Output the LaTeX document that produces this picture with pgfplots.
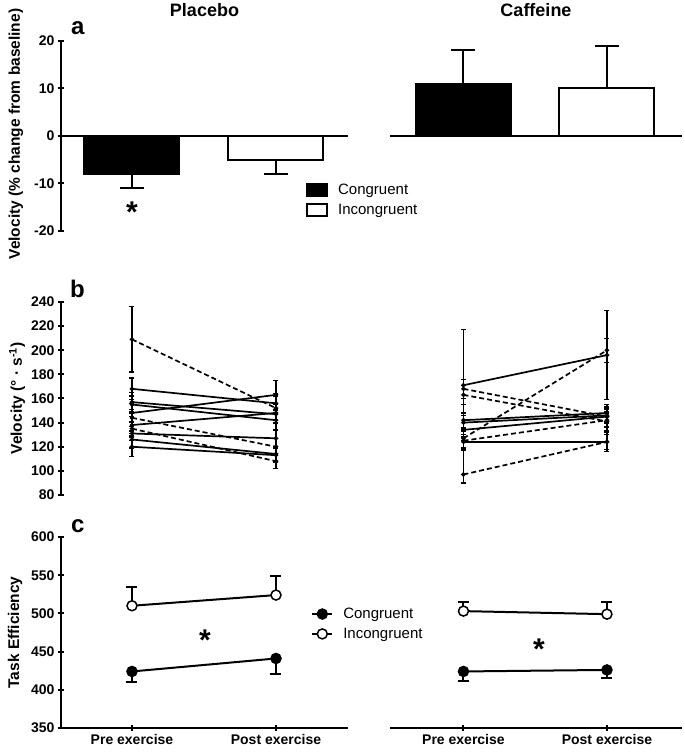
\documentclass[border=0pt]{standalone}
\usepackage{fontspec}
\setmainfont{Liberation Sans}
\usepackage{pgfplots}
\pgfplotsset{compat=1.18}

\pgfplotsset{
  prism/.style={
    scale only axis,
    clip=false,
    major tick style={line width=2pt, black},
    major tick length=6pt,
    tick align=outside,
    tick label style={font=\bfseries\fontsize{14}{16}\selectfont},
    /pgf/number format/assume math mode=true,
    label style={font=\bfseries\fontsize{15.5}{18}\selectfont},
    title style={font=\bfseries\fontsize{18}{20}\selectfont, at={(0.5,1)}, anchor=base, yshift=18pt},
  },
  noarrows/.style={axis line style={-, line width=2pt},
    every inner x axis line/.append style={-}, every outer x axis line/.append style={-},
    every inner y axis line/.append style={-}, every outer y axis line/.append style={-}},
  leftx/.style={xmin=-0.493, xmax=1.5, width=287pt},
  rightx/.style={xmin=-0.512, xmax=1.523, width=292pt},
  bar/.style={ybar, bar width=95pt, bar shift=0pt, draw=black, line width=2pt,
    error bars/y explicit, error bars/error bar style={line width=2pt},
    error bars/error mark options={rotate=90, mark size=12pt, line width=2pt}},
  pbs/.style={black, line width=1.7pt, mark=*, mark size=1.3pt, mark options={solid},
    error bars/y dir=both, error bars/y explicit,
    error bars/error bar style={solid, line width=1.3pt},
    error bars/error mark options={rotate=90, mark size=2.5pt, solid, line width=1.3pt}},
  pbd/.style={pbs, dash pattern=on 5pt off 3pt},
  pcc/.style={black, line width=2pt, mark=*, mark size=5pt,
    error bars/y explicit, error bars/error bar style={line width=2pt},
    error bars/error mark options={rotate=90, mark size=5.5pt, line width=2pt}},
  leg/.style={legend cell align=left,
    legend style={draw=none, fill=none, anchor=north west, row sep=4pt,
      font=\fontsize{15}{18}\selectfont,
      /tikz/every odd column/.append style={column sep=8pt}}},
}

\begin{document}
\begin{tikzpicture}
\useasboundingbox (0,0) rectangle (685pt,753pt);

% ---------- panel a ----------
\begin{axis}[prism, leftx, at={(61pt,522pt)}, anchor=south west, height=190pt,
  ymin=-20, ymax=20, ytick={-20,-10,0,10,20},
  axis y line=left, axis x line=middle, xtick=\empty,
  title={Placebo},
  ylabel={Velocity (\% change from baseline)},
  ylabel style={at={(axis description cs:-0.157,0.51)}, anchor=center},
  leg, legend style={at={(axis description cs:0.843,0.27)}},
  legend image code/.code={\draw[#1, line width=2pt] (0pt,-6pt) rectangle (20pt,6pt);},
  noarrows,
]
\addplot[bar, fill=black, error bars/y dir=minus] coordinates {(0,-8) +- (0,3)};
\addplot[bar, fill=white, error bars/y dir=minus] coordinates {(1,-5) +- (0,3)};
\legend{Congruent, Incongruent}
\node[font=\bfseries\fontsize{30}{30}\selectfont, anchor=base, yshift=-17.5pt, inner sep=0pt] at (axis cs:0,-14.5) {*};
\end{axis}

\begin{axis}[prism, rightx, at={(390pt,522pt)}, anchor=south west, height=190pt,
  ymin=-20, ymax=20, axis y line=none, axis x line=middle, xtick=\empty, ytick=\empty,
  title={Caffeine}, noarrows]
\addplot[bar, fill=black, error bars/y dir=plus] coordinates {(0,11) +- (0,7)};
\addplot[bar, fill=white, error bars/y dir=plus] coordinates {(1,10) +- (0,9)};
\end{axis}

% ---------- panel b ----------
\begin{axis}[prism, leftx, at={(61pt,258pt)}, anchor=south west, height=193pt,
  ymin=80, ymax=240, ytick={80,100,...,240},
  axis y line=left, axis x line=none, xtick=\empty,
  ylabel={Velocity (° · s\textsuperscript{-1})},
  ylabel style={at={(axis description cs:-0.153,0.5)}, anchor=center}, noarrows]
\addplot[pbd] coordinates {(0,209) +- (0,27) (1,152) +- (0,10)};
\addplot[pbs] coordinates {(0,168) +- (0,9) (1,156) +- (0,8)};
\addplot[pbs] coordinates {(0,157) +- (0,8) (1,147) +- (0,8)};
\addplot[pbs] coordinates {(0,155) +- (0,7) (1,142) +- (0,8)};
\addplot[pbs] coordinates {(0,148) +- (0,8) (1,163) +- (0,12)};
\addplot[pbd] coordinates {(0,144) +- (0,7) (1,120) +- (0,7)};
\addplot[pbs] coordinates {(0,138) +- (0,7) (1,148) +- (0,8)};
\addplot[pbd] coordinates {(0,135) +- (0,6) (1,108) +- (0,6)};
\addplot[pbs] coordinates {(0,131) +- (0,6) (1,127) +- (0,7)};
\addplot[pbs] coordinates {(0,126) +- (0,7) (1,114) +- (0,6)};
\addplot[pbs] coordinates {(0,120) +- (0,8) (1,113) +- (0,6)};
\end{axis}

\begin{axis}[prism, rightx, at={(390pt,258pt)}, anchor=south west, height=193pt,
  ymin=80, ymax=240, hide axis]
\addplot[pbs] coordinates {(0,171) +- (0,46) (1,196) +- (0,37)};
\addplot[pbd] coordinates {(0,127) +- (0,8) (1,200) +- (0,10)};
\addplot[pbd] coordinates {(0,168) +- (0,8) (1,145) +- (0,8)};
\addplot[pbd] coordinates {(0,163) +- (0,8) (1,141) +- (0,8)};
\addplot[pbs] coordinates {(0,142) +- (0,6) (1,148) +- (0,7)};
\addplot[pbs] coordinates {(0,140) +- (0,6) (1,146) +- (0,6)};
\addplot[pbs] coordinates {(0,134) +- (0,6) (1,145) +- (0,6)};
\addplot[pbd] coordinates {(0,125) +- (0,8) (1,142) +- (0,6)};
\addplot[pbs] coordinates {(0,124) +- (0,6) (1,124) +- (0,6)};
\addplot[pbd] coordinates {(0,97) += (0,20) -= (0,7) (1,124) +- (0,8)};
\end{axis}

% ---------- panel c ----------
\begin{axis}[prism, leftx, at={(61pt,25pt)}, anchor=south west, height=191pt,
  ymin=350, ymax=600, ytick={350,400,...,600},
  axis y line=left, axis x line=bottom,
  xtick={0,1}, xticklabels={Pre exercise, Post exercise},
  ylabel={Task Efficiency},
  ylabel style={at={(axis description cs:-0.16,0.5)}, anchor=center},
  leg, legend style={at={(axis description cs:0.861,0.65)}},
  legend image code/.code={\draw[mark repeat=2, mark phase=2, #1] plot coordinates {(0pt,0pt) (10pt,0pt) (20pt,0pt)};},
  noarrows,
]
\addplot[pcc, mark options={fill=black, line width=1.5pt}, error bars/y dir=minus]
  coordinates {(0,424) +- (0,14) (1,441) +- (0,20)};
\addplot[pcc, mark options={fill=white, line width=1.5pt}, error bars/y dir=plus]
  coordinates {(0,510) +- (0,25) (1,524) +- (0,25)};
\legend{Congruent, Incongruent}
\node[font=\bfseries\fontsize{30}{30}\selectfont, anchor=base, yshift=-17.5pt, inner sep=0pt] at (axis cs:0.507,474) {*};
\end{axis}

\begin{axis}[prism, rightx, at={(390pt,25pt)}, anchor=south west, height=191pt,
  ymin=350, ymax=600, axis y line=none, axis x line=bottom, ytick=\empty,
  xtick={0,1}, xticklabels={Pre exercise, Post exercise}, noarrows]
\addplot[pcc, mark options={fill=black, line width=1.5pt}, error bars/y dir=minus]
  coordinates {(0,424) +- (0,13) (1,426) +- (0,11)};
\addplot[pcc, mark options={fill=white, line width=1.5pt}, error bars/y dir=plus]
  coordinates {(0,503) +- (0,12) (1,499) +- (0,16)};
\node[font=\bfseries\fontsize{30}{30}\selectfont, anchor=base, yshift=-17.5pt, inner sep=0pt] at (axis cs:0.526,462.6) {*};
\end{axis}

% panel letters
\node[font=\bfseries\fontsize{24}{24}\selectfont, anchor=base west, inner sep=0pt] at (71pt,718pt) {a};
\node[font=\bfseries\fontsize{24}{24}\selectfont, anchor=base west, inner sep=0pt] at (70pt,455pt) {b};
\node[font=\bfseries\fontsize{24}{24}\selectfont, anchor=base west, inner sep=0pt] at (71pt,220pt) {c};
\end{tikzpicture}
\end{document}
